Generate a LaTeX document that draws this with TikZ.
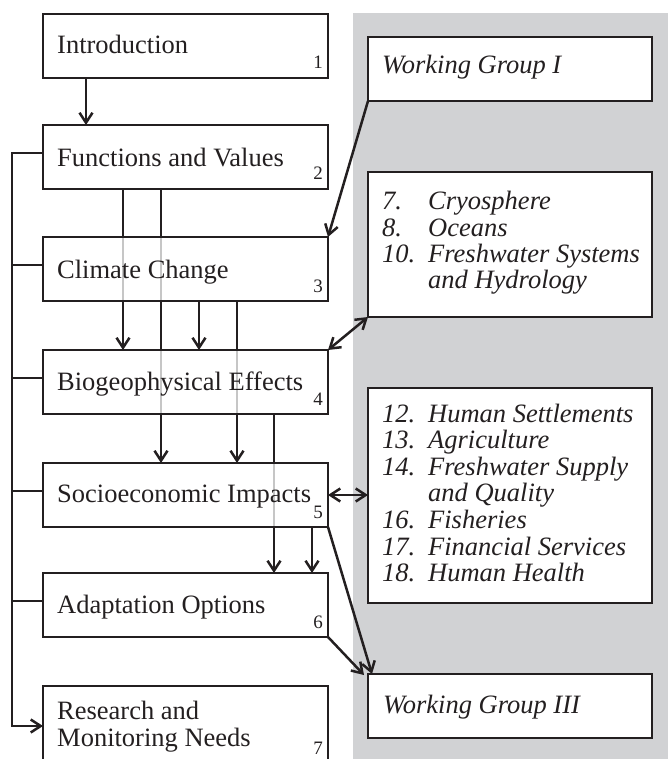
\documentclass[tikz,border=0pt]{standalone}
\usepackage{fontspec}
\setmainfont{Liberation Serif}
\usetikzlibrary{arrows.meta,calc}
\pgfdeclarelayer{background}
\pgfsetlayers{background,main}
\definecolor{panel}{RGB}{209,210,212}
\definecolor{ink}{RGB}{35,31,32}
\definecolor{faint}{RGB}{198,198,198}
\tikzset{
  box/.style={draw=ink, line width=1.5pt, inner sep=0pt, outer sep=0pt, anchor=north west,
    minimum width=285pt, minimum height=64pt},
  rbox/.style={box, fill=white, minimum width=284pt},
  lbl/.style={anchor=base west, inner sep=0pt, text=ink, font=\fontsize{26.5}{27}\selectfont},
  ital/.style={anchor=base west, inner sep=0pt, text=ink, font=\fontsize{26.5}{26.6}\selectfont\itshape},
  num/.style={anchor=base east, inner sep=0pt, text=ink, font=\fontsize{19}{20}\selectfont},
  conn/.style={draw=ink, line width=2.5pt},
  ghost/.style={draw=faint, line width=2.5pt},
  >={Straight Barb[length=10pt,width=13pt]}
}
\begin{document}
\begin{tikzpicture}[x=1pt,y=-1pt]
\useasboundingbox (0,0) rectangle (668,759);
\clip (0,0) rectangle (668,759);
% left column boxes
\node[box] (intro) at (43,14) {};
\node[box] (func) at (43,125) {};
\node[box] (clim) at (43,237) {};
\node[box] (bio) at (43,350) {};
\node[box] (soc) at (43,463) {};
\node[box] (adapt) at (43,573) {};
\node[box, minimum height=80pt] (res) at (43,686) {};
% left texts
\node[lbl] (introT) at ($(intro.north west)+(14,40)$) {Introduction};
\node[lbl] (funcT) at ($(func.north west)+(14,42)$) {Functions and Values};
\node[lbl] (climT) at ($(clim.north west)+(14,41)$) {Climate Change};
\node[lbl] (bioT) at ($(bio.north west)+(14,40)$) {Biogeophysical Effects};
\node[lbl] (socT) at ($(soc.north west)+(14,39)$) {Socioeconomic Impacts};
\node[lbl] (adaptT) at ($(adapt.north west)+(14,40)$) {Adaptation Options};
\node[lbl] (resT) at ($(res.north west)+(14,33)$) {\begin{tabular}[t]{@{}l@{}}Research and\\Monitoring Needs\end{tabular}};
% numbers
\node[num] (introN) at ($(intro.south east)+(-5,-9)$) {1};
\node[num] (funcN) at ($(func.south east)+(-5,-9)$) {2};
\node[num] (climN) at ($(clim.south east)+(-5,-9)$) {3};
\node[num] (bioN) at ($(bio.south east)+(-5,-9)$) {4};
\node[num] (socN) at ($(soc.south east)+(-5,-9)$) {5};
\node[num] (adaptN) at ($(adapt.south east)+(-5,-9)$) {6};
\node[num] (resN) at ($(res.north west)+(280,68)$) {7};
% right column boxes
\node[rbox] (wg1) at (368,37) {};
\node[rbox, minimum height=145pt] (cryo) at (368,172) {};
\node[rbox, minimum height=215pt] (hum) at (368,388) {};
\node[rbox] (wg3) at (368,674) {};
\node[ital] (wg1T) at ($(wg1.north west)+(14,37)$) {Working Group I};
\node[ital] (wg3T) at ($(wg3.north west)+(15,39)$) {Working Group III};
\node[ital, font=\fontsize{26.5}{26}\selectfont\itshape] (cryoT) at ($(cryo.north west)+(14,38)$)
  {\begin{tabular}[t]{@{}p{46pt}@{}l@{}}7. & Cryosphere\\ 8. & Oceans\\ 10. & Freshwater Systems\\ & and Hydrology\end{tabular}};
\node[ital] (humT) at ($(hum.north west)+(14,34)$)
  {\begin{tabular}[t]{@{}p{46pt}@{}l@{}}12. & Human Settlements\\ 13. & Agriculture\\ 14. & Freshwater Supply\\ & and Quality\\ 16. & Fisheries\\ 17. & Financial Services\\ 18. & Human Health\end{tabular}};
% background panel and faint through-lines
\begin{pgfonlayer}{background}
\fill[panel] (353,13) rectangle (668,759);
\draw[ghost] ([xshift=80pt]clim.north west) -- ([xshift=80pt]clim.south west);
\draw[ghost] ([xshift=118pt]clim.north west) -- ([xshift=118pt]clim.south west);
\draw[ghost] ([xshift=118pt]bio.north west) -- ([xshift=118pt]bio.south west);
\draw[ghost] ([xshift=194pt]bio.north west) -- ([xshift=194pt]bio.south west);
\draw[ghost] ([xshift=231pt]soc.north west) -- ([xshift=231pt]soc.south west);
\end{pgfonlayer}
% vertical connectors
\draw[conn,->] ([xshift=43pt]intro.south west) -- ([xshift=43pt]func.north west);
\draw[conn] ([xshift=80pt]func.south west) -- ([xshift=80pt]clim.north west);
\draw[conn,->] ([xshift=80pt]clim.south west) -- ([xshift=80pt]bio.north west);
\draw[conn] ([xshift=118pt]func.south west) -- ([xshift=118pt]clim.north west);
\draw[conn] ([xshift=118pt]clim.south west) -- ([xshift=118pt]bio.north west);
\draw[conn,->] ([xshift=118pt]bio.south west) -- ([xshift=118pt]soc.north west);
\draw[conn,->] ([xshift=156pt]clim.south west) -- ([xshift=156pt]bio.north west);
\draw[conn] ([xshift=194pt]clim.south west) -- ([xshift=194pt]bio.north west);
\draw[conn,->] ([xshift=194pt]bio.south west) -- ([xshift=194pt]soc.north west);
\draw[conn] ([xshift=231pt]bio.south west) -- ([xshift=231pt]soc.north west);
\draw[conn,->] ([xshift=231pt]soc.south west) -- ([xshift=231pt]adapt.north west);
\draw[conn,->] ([xshift=269pt]soc.south west) -- ([xshift=269pt]adapt.north west);
% left bus
\coordinate (bus) at (12,0);
\draw[conn,->] ([yshift=4pt]func.west) -| ([yshift=-40pt]res.north west -| bus) -- ([yshift=-40pt]res.north west);
\draw[conn] ([yshift=4pt]clim.west) -- ([yshift=4pt]clim.west -| bus);
\draw[conn] ([yshift=4pt]bio.west) -- ([yshift=4pt]bio.west -| bus);
\draw[conn] ([yshift=4pt]soc.west) -- ([yshift=4pt]soc.west -| bus);
\draw[conn] ([yshift=4pt]adapt.west) -- ([yshift=4pt]adapt.west -| bus);
% links to right column
\draw[conn,->] (wg1.south west) -- (clim.north east);
\draw[conn,<->] (cryo.south west) -- (bio.north east);
\draw[conn,<->] (soc.east) -- (soc.east -| hum.west);
\draw[conn,->] (soc.south east) -- ([xshift=4pt]wg3.north west);
\draw[conn,->] (adapt.south east) -- ([xshift=-4pt,yshift=-1pt]wg3.north west);
\end{tikzpicture}
\end{document}
